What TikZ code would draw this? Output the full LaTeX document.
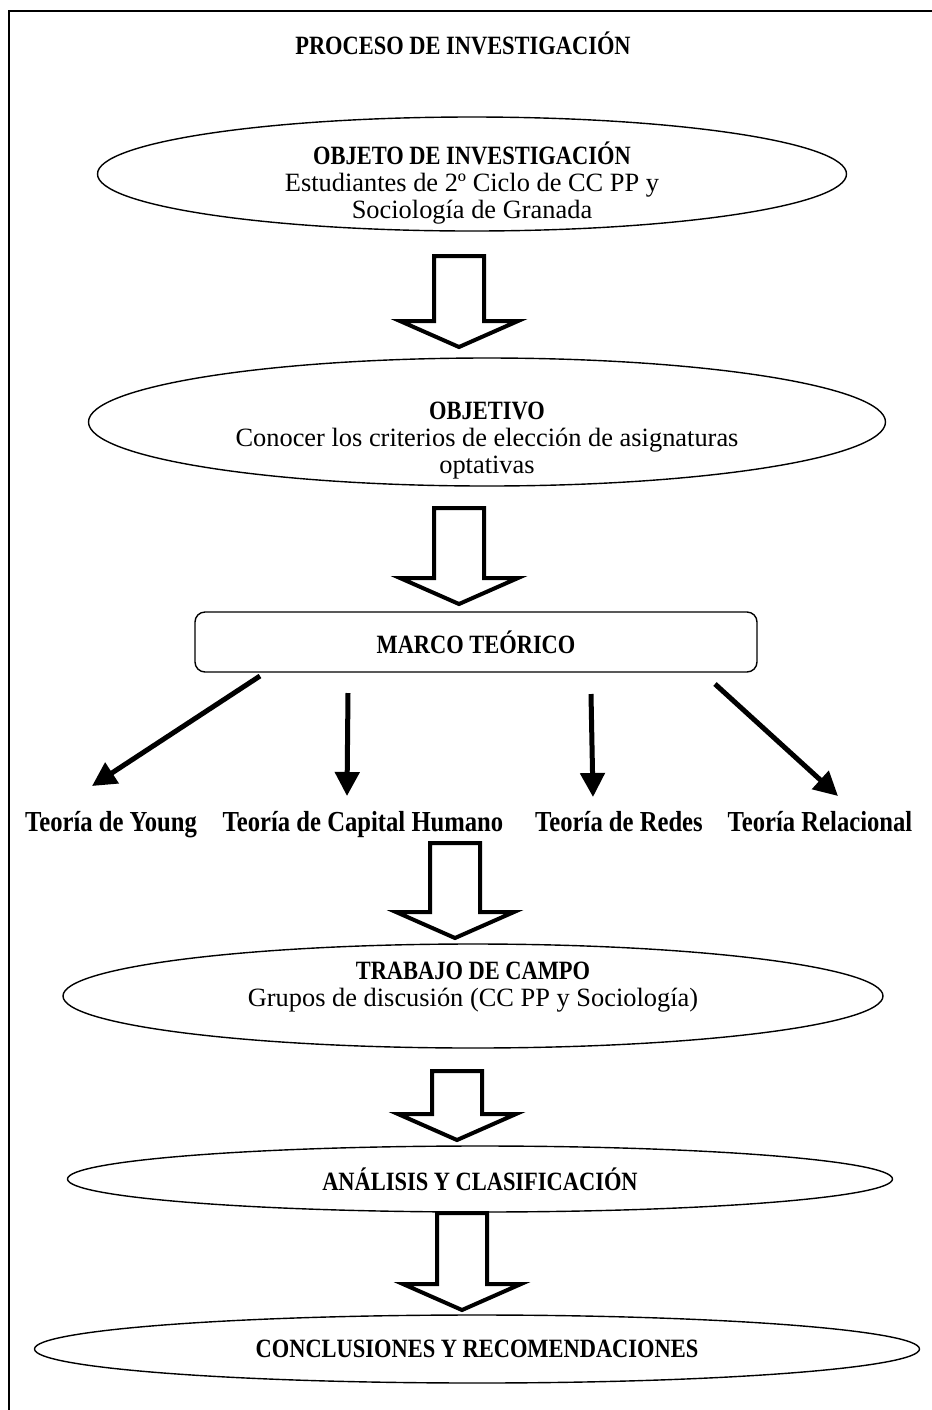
\documentclass[tikz,border=0pt]{standalone}
\usepackage{fontspec}
\setmainfont{Liberation Serif}[BoldFeatures={FakeStretch=0.85}]
\usetikzlibrary{shapes.geometric,arrows.meta,calc}

\begin{document}
\begin{tikzpicture}[x=0.5pt,y=-0.5pt,
  every node/.style={font=\fontsize{13.2}{13.5}\selectfont},
  oval/.style={draw,ellipse,line width=0.7pt,inner sep=0pt,align=center},
  bigarrow/.style={draw,fill=white,line width=2pt,line join=miter},
  thinarrow/.style={line width=2.5pt,-{Triangle[length=12pt,width=12pt]}},
  theory/.style={anchor=base,font=\fontsize{14.5}{15}\selectfont\bfseries}]
\useasboundingbox (0,0) rectangle (932,1410);
\draw[line width=1pt] (9,1410) -- (9,11) -- (932,11);
\node (title) at (463,43) {\bfseries PROCESO DE INVESTIGACIÓN};
% stages
\node[oval,minimum width=374.5pt,minimum height=57pt] (obj) at (472,174) {};
\node[align=center] (objtxt) at (472,183)
  {\textbf{OBJETO DE INVESTIGACIÓN}\\Estudiantes de 2º Ciclo de CC PP y\\Sociología de Granada};
\node[oval,minimum width=398.5pt,minimum height=64pt] (goal) at (487,422) {};
\node[align=center] (goaltxt) at (487,441)
  {\textbf{OBJETIVO}\\Conocer los criterios de elección de asignaturas\\optativas};
\node[draw,rounded corners=5pt,line width=0.7pt,minimum width=281pt,minimum height=30pt] (marco) at (476,642)
  {\bfseries MARCO TEÓRICO};
\node[theory] (young) at (111,831) {Teoría de Young};
\node[theory] (capital) at (363,831) {Teoría de Capital Humano};
\node[theory] (redes) at (619,831) {Teoría de Redes};
\node[theory] (relac) at (820,831) {Teoría Relacional};
\node[oval,minimum width=410pt,minimum height=52pt] (campo) at (473,996) {};
\node[align=center] (campotxt) at (473,987)
  {\textbf{TRABAJO DE CAMPO}\\Grupos de discusión (CC PP y Sociología)};
\node[oval,minimum width=412.5pt,minimum height=33pt] (anal) at (480,1179)
  {\bfseries ANÁLISIS Y CLASIFICACIÓN};
\node[oval,minimum width=442.5pt,minimum height=34pt] (concl) at (477,1349)
  {\bfseries CONCLUSIONES Y RECOMENDACIONES};
% block arrows
\coordinate (s1) at (459,256);  \coordinate (t1) at (459,347);
\coordinate (s2) at (459,508);  \coordinate (t2) at (459,604);
\coordinate (s3) at (455,843);  \coordinate (t3) at (455,938);
\coordinate (s4) at (457,1071); \coordinate (t4) at (457,1140);
\coordinate (s5) at (462,1213); \coordinate (t5) at (462,1310);
\foreach \i in {1,...,5}
  \draw[bigarrow] ($(s\i)+(-25,0)$) -- ($(s\i)+(25,0)$) -- ($(t\i)+(25,-26)$)
    -- ($(t\i)+(59,-26)$) -- (t\i) -- ($(t\i)+(-59,-26)$) -- ($(t\i)+(-25,-26)$) -- cycle;
% theory arrows
\coordinate (m1) at (260,676); \coordinate (y1) at (92,786);
\coordinate (m2) at (348,693); \coordinate (y2) at (347,796);
\coordinate (m3) at (591,694); \coordinate (y3) at (593,797);
\coordinate (m4) at (715,684); \coordinate (y4) at (838,796);
\foreach \i in {1,...,4}
  \draw[thinarrow] (m\i) -- (y\i);
\end{tikzpicture}
\end{document}
